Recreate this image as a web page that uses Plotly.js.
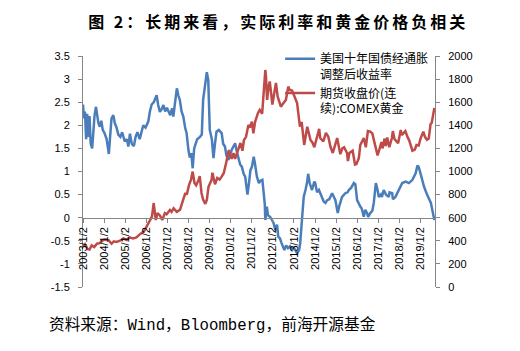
<!DOCTYPE html>
<html><head><meta charset="utf-8">
<script src="https://cdn.plot.ly/plotly-3.0.1.min.js"></script>
<style>
html,body{margin:0;padding:0;background:#fff;}
#chart{width:520px;height:351px;}
.gtitle{letter-spacing:3px;}
</style></head>
<body><div id="chart"></div>
<script>
const tipsDates = ['2003-01-02','2003-01-20','2003-02-05','2003-02-25','2003-03-15','2003-04-05','2003-04-25','2003-05-15','2003-06-10','2003-07-01','2003-07-20','2003-08-15','2003-09-05','2003-09-25','2003-10-20','2003-11-15','2003-12-10','2004-01-10','2004-02-15','2004-03-25','2004-04-15','2004-05-10','2004-06-10','2004-07-05','2004-08-05','2004-09-05','2004-10-10','2004-11-10','2004-12-25','2005-02-01','2005-02-25','2005-03-25','2005-04-25','2005-06-01','2005-07-01','2005-08-01','2005-09-10','2005-10-15','2005-11-10','2005-12-20','2006-02-05','2006-03-05','2006-04-05','2006-05-10','2006-06-10','2006-07-01','2006-07-25','2006-08-25','2006-09-25','2006-10-25','2006-11-25','2006-12-25','2007-02-20','2007-03-25','2007-04-15','2007-05-15','2007-06-15','2007-07-10','2007-08-05','2007-09-05','2007-10-05','2007-11-05','2007-12-01','2008-01-01','2008-01-25','2008-02-20','2008-03-15','2008-04-10','2008-05-01','2008-06-01','2008-07-20','2008-08-20','2008-09-12','2008-10-20','2008-11-15','2008-12-10','2009-01-05','2009-02-10','2009-03-10','2009-04-05','2009-05-01','2009-06-10','2009-07-30','2009-08-25','2009-09-25','2009-10-20','2009-11-25','2010-01-20','2010-02-20','2010-03-20','2010-04-15','2010-05-15','2010-06-15','2010-07-15','2010-08-15','2010-09-10','2010-10-20','2010-11-15','2010-12-10','2011-01-05','2011-02-05','2011-03-01','2011-04-01','2011-05-05','2011-06-01','2011-07-05','2011-07-25','2011-08-15','2011-08-25','2011-09-20','2011-10-10','2011-11-15','2011-12-20','2012-01-15','2012-02-15','2012-03-15','2012-04-05','2012-05-05','2012-06-01','2012-07-20','2012-08-20','2012-09-20','2012-10-25','2012-12-01','2013-01-01','2013-02-25','2013-04-01','2013-04-20','2013-05-20','2013-06-20','2013-07-20','2013-08-15','2013-09-05','2013-10-01','2013-11-10','2013-12-20','2014-01-05','2014-02-05','2014-03-10','2014-04-10','2014-05-05','2014-06-01','2014-07-01','2014-08-01','2014-09-05','2014-10-25','2014-11-25','2014-12-20','2015-01-30','2015-02-25','2015-04-15','2015-05-20','2015-06-10','2015-07-20','2015-08-10','2015-09-20','2015-11-05','2015-12-01','2015-12-31','2016-02-25','2016-03-20','2016-04-25','2016-05-20','2016-06-20','2016-07-10','2016-08-15','2016-09-20','2016-10-15','2016-11-20','2016-12-20','2017-01-10','2017-02-15','2017-03-05','2017-04-05','2017-05-15','2017-07-01','2017-07-15','2017-08-30','2017-09-10','2017-10-25','2017-12-20','2018-02-20','2018-04-20','2018-06-15','2018-08-15','2018-10-10','2018-11-10','2018-12-01','2019-01-02','2019-02-15','2019-03-05','2019-04-25','2019-06-10','2019-07-01','2019-07-20','2019-08-15','2019-08-30'];
const tipsYield = [2.45,2.15,2.30,1.70,2.25,1.75,2.20,1.60,1.50,1.85,2.20,2.40,2.25,2.05,1.97,2.10,1.90,1.83,1.70,1.38,1.75,2.15,2.22,2.05,1.95,1.80,1.75,1.85,1.65,1.70,1.54,1.82,1.60,1.55,1.75,1.85,1.70,1.90,2.00,1.95,2.08,2.30,2.45,2.50,2.60,2.65,2.45,2.29,2.35,2.44,2.30,2.38,2.22,2.37,2.19,2.50,2.80,2.65,2.55,2.30,2.19,1.95,1.83,1.47,1.30,1.40,1.07,1.50,1.57,1.70,1.75,1.80,2.55,2.90,3.15,2.98,1.90,1.70,1.29,1.60,1.86,1.90,1.83,1.60,1.54,1.35,1.25,1.47,1.55,1.61,1.45,1.32,1.15,1.10,0.95,0.89,0.50,0.75,1.03,1.10,1.32,1.15,0.89,0.75,0.80,0.82,0.53,0.30,-0.05,0.24,0.05,0.02,-0.05,-0.12,-0.27,-0.15,-0.41,-0.45,-0.55,-0.70,-0.60,-0.66,-0.62,-0.70,-0.65,-0.77,-0.70,-0.55,-0.05,0.45,0.60,0.75,0.95,0.75,0.60,0.78,0.75,0.55,0.60,0.50,0.43,0.35,0.32,0.38,0.40,0.53,0.45,0.38,0.10,0.25,0.45,0.50,0.53,0.55,0.60,0.65,0.75,0.72,0.38,0.24,0.20,0.02,0.17,0.10,0.02,0.10,0.15,0.32,0.75,0.60,0.45,0.50,0.45,0.60,0.50,0.45,0.55,0.53,0.40,0.45,0.60,0.75,0.78,0.75,0.82,0.96,1.13,1.10,0.96,0.75,0.67,0.50,0.35,0.32,0.20,0.02,-0.05];

const goldDates = ['2003-01-02','2003-02-05','2003-03-20','2003-04-25','2003-06-01','2003-07-15','2003-09-01','2003-10-15','2003-12-15','2004-01-20','2004-03-20','2004-05-10','2004-06-20','2004-08-01','2004-10-05','2004-12-01','2005-01-30','2005-03-15','2005-05-20','2005-07-15','2005-09-20','2005-11-20','2006-01-05','2006-02-15','2006-04-10','2006-05-10','2006-06-15','2006-07-15','2006-08-25','2006-10-05','2006-11-20','2006-12-20','2007-02-15','2007-03-15','2007-04-20','2007-06-15','2007-08-10','2007-09-10','2007-10-05','2007-11-10','2007-12-05','2008-01-10','2008-02-15','2008-03-15','2008-04-15','2008-05-15','2008-06-25','2008-07-15','2008-08-15','2008-09-10','2008-10-20','2008-11-15','2008-12-15','2009-02-05','2009-02-20','2009-04-05','2009-05-15','2009-06-25','2009-07-30','2009-09-05','2009-10-15','2009-12-01','2010-01-20','2010-02-20','2010-03-20','2010-05-10','2010-06-20','2010-07-25','2010-08-20','2010-09-25','2010-11-05','2010-12-01','2011-01-05','2011-01-30','2011-03-01','2011-04-20','2011-05-20','2011-07-01','2011-08-05','2011-08-25','2011-09-05','2011-09-25','2011-10-20','2011-11-10','2011-12-25','2012-01-20','2012-02-25','2012-03-25','2012-05-20','2012-07-01','2012-08-15','2012-09-25','2012-10-20','2012-12-01','2013-01-25','2013-02-25','2013-04-15','2013-05-15','2013-06-28','2013-08-20','2013-10-15','2013-11-20','2013-12-20','2014-02-05','2014-03-15','2014-04-01','2014-05-25','2014-07-10','2014-08-20','2014-09-25','2014-11-05','2014-12-10','2015-01-20','2015-03-15','2015-04-20','2015-05-20','2015-07-10','2015-07-25','2015-08-20','2015-10-15','2015-11-25','2015-12-20','2016-01-30','2016-02-25','2016-03-20','2016-04-25','2016-05-30','2016-07-05','2016-08-15','2016-09-20','2016-10-20','2016-11-20','2016-12-20','2017-01-25','2017-02-25','2017-03-15','2017-04-20','2017-05-10','2017-06-05','2017-07-10','2017-08-25','2017-09-10','2017-10-10','2017-12-10','2018-01-25','2018-02-10','2018-04-15','2018-05-25','2018-06-20','2018-08-15','2018-09-25','2018-10-25','2018-12-01','2019-01-02','2019-02-20','2019-03-20','2019-04-25','2019-05-25','2019-06-25','2019-07-15','2019-08-10','2019-08-30'];
const goldPrice = [350,370,330,325,360,345,375,380,405,410,405,375,395,390,401,420,407,430,420,430,460,480,520,554,610,727,580,640,620,580,640,630,667,650,681,650,670,720,753,814,800,880,930,999,900,880,927,960,814,760,720,753,869,927,990,890,944,930,955,987,1074,1186,1110,1160,1110,1186,1247,1180,1273,1300,1403,1380,1431,1330,1430,1507,1533,1500,1706,1879,1821,1620,1735,1780,1580,1648,1767,1650,1561,1590,1620,1735,1706,1700,1634,1593,1388,1430,1230,1388,1273,1250,1210,1290,1370,1290,1260,1334,1301,1216,1160,1220,1290,1150,1200,1210,1160,1090,1160,1180,1060,1065,1115,1230,1250,1290,1210,1350,1345,1330,1265,1200,1140,1200,1255,1200,1285,1220,1295,1210,1290,1350,1280,1245,1360,1315,1350,1295,1270,1180,1190,1230,1225,1285,1345,1300,1275,1285,1410,1420,1500,1550];

const seriesNames = ['美国十年国债经通胀<br>调整后收益率','期货收盘价(连<br>续):COMEX黄金'];
const xTickVals = ['2003-01-02','2004-01-02','2005-01-02','2006-01-02','2007-01-02','2008-01-02','2009-01-02','2010-01-02','2011-01-02','2012-01-02','2013-01-02','2014-01-02','2015-01-02','2016-01-02','2017-01-02','2018-01-02','2019-01-02'];
const xTickText = ['2003/1/2','2004/1/2','2005/1/2','2006/1/2','2007/1/2','2008/1/2','2009/1/2','2010/1/2','2011/1/2','2012/1/2','2013/1/2','2014/1/2','2015/1/2','2016/1/2','2017/1/2','2018/1/2','2019/1/2'];
const yLeftVals = [-1.5,-1,-0.5,0,0.5,1,1.5,2,2.5,3,3.5];
const yLeftText = ['-1.5','-1','-0.5','0','0.5','1','1.5','2','2.5','3','3.5'];

const axisGray = '#868686';
const tickFont = {family:'Liberation Sans, Arial, sans-serif', size:11, color:'#000'};

const traces = [
  {x: tipsDates, y: tipsYield, name: seriesNames[0], type:'scatter', mode:'lines',
   line:{color:'#4a7ebb', width:2.5}, yaxis:'y'},
  {x: goldDates, y: goldPrice, name: seriesNames[1], type:'scatter', mode:'lines',
   line:{color:'#be4b48', width:2.5}, yaxis:'y2'}
];

const layout = {
  width:520, height:351,
  margin:{l:83, r:85, t:56, b:64},
  paper_bgcolor:'#fff', plot_bgcolor:'rgba(0,0,0,0)',
  showlegend:true,
  title:{text:'图 2：长期来看，实际利率和黄金价格负相关', x:0.535, xref:'container', xanchor:'center',
         y:0.937, yref:'container', yanchor:'middle',
         font:{family:'Noto Sans CJK SC, sans-serif', size:16, color:'#000', weight:'bold'}},
  xaxis:{type:'date', range:['2003-01-02','2019-09-10'], anchor:'free', position:0.3,
         tickvals:xTickVals, ticktext:xTickText, tickangle:-90, tickfont:tickFont,
         showline:true, linecolor:axisGray, linewidth:1, ticks:'outside', ticklen:4, tickcolor:axisGray,
         showgrid:false, zeroline:false},
  yaxis:{range:[-1.5,3.5], tickvals:yLeftVals, ticktext:yLeftText, tickfont:tickFont,
         showline:true, linecolor:axisGray, linewidth:1, ticks:'outside', ticklen:4, tickcolor:axisGray,
         ticklabelstandoff:6, showgrid:false, zeroline:false},
  yaxis2:{range:[0,2000], dtick:200, overlaying:'y', side:'right', tickfont:tickFont,
          showline:true, linecolor:axisGray, linewidth:1, ticks:'outside', ticklen:4, tickcolor:axisGray,
          ticklabelstandoff:6, showgrid:false, zeroline:false},
  legend:{x:0.56, xanchor:'left', y:1.05, yanchor:'top', bgcolor:'rgba(0,0,0,0)',
          font:{family:'Noto Sans CJK SC, sans-serif', size:12, color:'#000'},
          valign:'top', tracegroupgap:4, itemwidth:30},
  annotations:[{text:'资料来源：Wind，Bloomberg，前海开源基金', xref:'paper', yref:'paper',
     x:-0.102, y:-0.165, xanchor:'left', yanchor:'middle', showarrow:false,
     font:{family:'Liberation Mono, Noto Sans CJK SC, monospace', size:15.7, color:'#000'}}]
};

Plotly.newPlot('chart', traces, layout, {staticPlot:true, displayModeBar:false});
</script></body></html>
